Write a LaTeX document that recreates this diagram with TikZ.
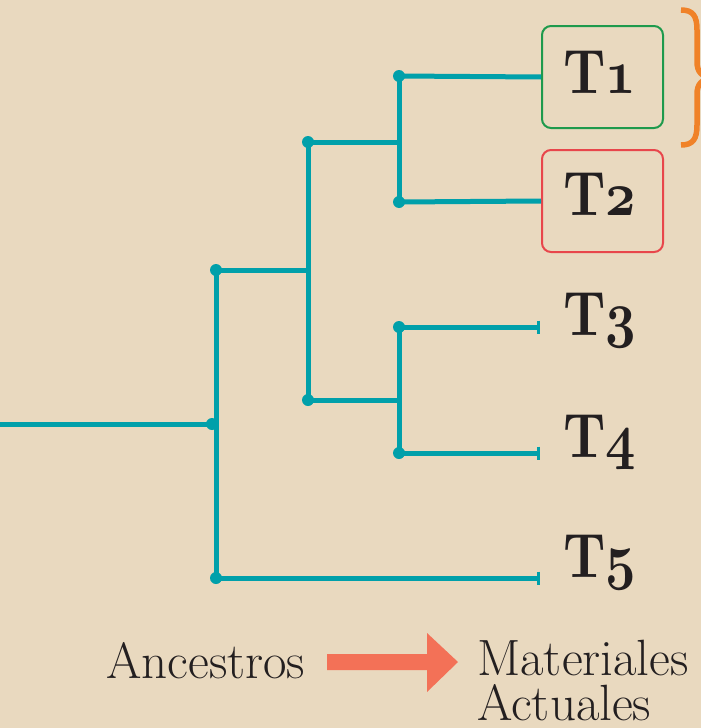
\documentclass[tikz,border=0pt]{standalone}
\usepackage{graphicx}
\usetikzlibrary{arrows.meta}
\definecolor{bg}{HTML}{E9D9BF}
\definecolor{teal}{HTML}{00A0AA}
\definecolor{boxgreen}{HTML}{1E9A4C}
\definecolor{boxred}{HTML}{E8464B}
\definecolor{bracecol}{HTML}{F08228}
\definecolor{arrowcol}{HTML}{F37157}
\definecolor{ink}{HTML}{231F20}
\newcommand{\oldnum}[1]{{\fontsize{10}{12}\usefont{OML}{cmm}{b}{it}#1}}
\newcommand{\tlabel}[1]{\scalebox{5.3}[6.27]{\fontsize{10}{12}\selectfont\bfseries T\oldnum{#1}}}
\begin{document}
\begin{tikzpicture}[x=1pt,y=-1pt,
  branch/.style={draw=teal,line width=5pt},
  endbar/.style={branch,-{Bar[width=13pt,line width=3pt]}},
  dot/.style={circle,fill=teal,inner sep=0pt,minimum size=12pt},
  tbox/.style={draw,line width=2pt,rounded corners=9pt,minimum width=121pt,minimum height=102pt,inner sep=0pt},
  tlab/.style={anchor=base west,inner sep=0pt,text=ink},
  bottomtxt/.style={anchor=base west,inner sep=0pt,text=ink,font=\fontsize{51}{45}\selectfont}]
\fill[bg] (0,0) rectangle (701,728);
\useasboundingbox (0,0) rectangle (701,728);
\clip (0,0) rectangle (701,728);
% boxes
\node[tbox,draw=boxgreen] (b1) at (602.5,77) {};
\node[tbox,draw=boxred] (b2) at (602.5,201) {};
% labels
\node[tlab] (t1) at (563,93) {\tlabel{1}};
\node[tlab] (t2) at (563,215) {\tlabel{2}};
\node[tlab] (t3) at (563,335) {\tlabel{3}};
\node[tlab] (t4) at (563,457) {\tlabel{4}};
\node[tlab] (t5) at (563,577) {\tlabel{5}};
% tree coordinates
\coordinate (r0) at (0,424);
\coordinate (n0) at (212,424);
\coordinate (a) at (216,270);
\coordinate (b) at (216,578);
\coordinate (c) at (308,142);
\coordinate (c0) at (308,270);
\coordinate (d) at (308,400);
\coordinate (e) at (399,76);
\coordinate (e0) at (399,142);
\coordinate (f) at (399,202);
\coordinate (g) at (399,327);
\coordinate (g0) at (399,400);
\coordinate (h) at (399,453);
\coordinate (e3) at (540,327);
\coordinate (e4) at (540,453);
\coordinate (e5) at (540,578);
% branches
\draw[branch] (r0) -- (n0);
\draw[branch] (a) -- (b);
\draw[branch] (a) -- (c0);
\draw[branch] (c) -- (d);
\draw[branch] (c) -- (e0);
\draw[branch] (e) -- (f);
\draw[branch] (e) -- (b1.west);
\draw[branch] (f) -- (b2.west);
\draw[branch] (d) -- (g0);
\draw[branch] (g) -- (h);
\draw[endbar] (g) -- (e3);
\draw[endbar] (h) -- (e4);
\draw[endbar] (b) -- (e5);
% dots
\foreach \p in {n0,a,b,c,d,e,f,g,h} \node[dot] at (\p) {};
% brace
\draw[bracecol,line width=5.5pt]
  (681,10) .. controls (693,10) and (697,16) .. (697,30) -- (697,62)
  .. controls (697,72) and (702,77) .. (712,78)
  .. controls (702,79) and (697,84) .. (697,94) -- (697,125)
  .. controls (697,139) and (693,145) .. (681,145);
% bottom legend
\node[bottomtxt] (anc) at (106,678) {Ancestros};
\node[bottomtxt,align=left] (mat) at (477,720) {Materiales\\Actuales};
\fill[arrowcol] (327,654) -- (427,654) -- (427,633) -- (458,662) -- (427,692) -- (427,670) -- (327,670) -- cycle;
\end{tikzpicture}
\end{document}
